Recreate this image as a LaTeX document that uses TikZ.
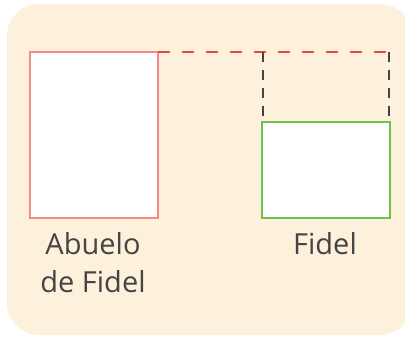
\documentclass[tikz,border=0pt]{standalone}
\usepackage{fontspec}
\setmainfont{Open Sans}
\definecolor{bgc}{HTML}{FDF1DC}
\definecolor{redb}{HTML}{F28A8A}
\definecolor{redd}{HTML}{E8463C}
\definecolor{greenb}{HTML}{6CC24A}
\definecolor{txt}{HTML}{444444}
\begin{document}
\begin{tikzpicture}[x=1pt,y=-1pt,
  lbl/.style={text=txt,font=\fontsize{29}{38}\selectfont,align=center,inner sep=0pt},
  boxr/.style={draw=redb,line width=2pt,fill=white},
  boxg/.style={draw=greenb,line width=2pt,fill=white}]
\useasboundingbox (0,0) rectangle (405,337);
\fill[bgc,rounded corners=32pt] (7,4) rectangle (412,335);
\draw[boxr] (30,52) rectangle (158,218);
\draw[boxg] (261.5,122.5) rectangle (389.5,218);
\coordinate (rt) at (158,52);
\coordinate (re) at (389.5,52);
\coordinate (gl) at (262.5,52);
\coordinate (gr) at (389,52);
\coordinate (gbl) at (262.5,122);
\coordinate (gbr) at (389,122);
\draw[redd,line width=2pt,dash pattern=on 12pt off 12pt] (rt) -- (re);
\draw[txt,line width=2pt,dash pattern=on 10pt off 8pt] (gl) -- (gbl);
\draw[txt,line width=2pt,dash pattern=on 10pt off 8pt] (gr) -- (gbr);
\node[lbl,anchor=base] (ab) at (93,254) {Abuelo};
\node[lbl,anchor=base] (ab2) at (93,292) {de Fidel};
\node[lbl,anchor=base] (fi) at (325,254) {Fidel};
\end{tikzpicture}
\end{document}
